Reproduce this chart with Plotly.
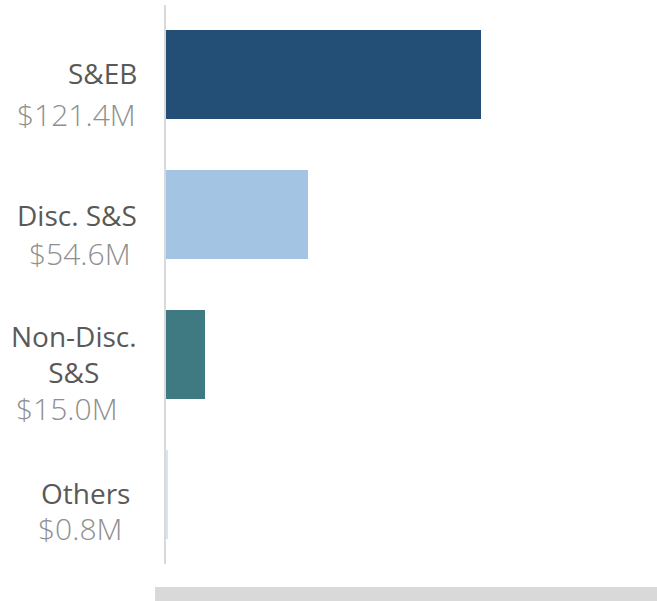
import plotly.graph_objects as go

# ---- data ----
categories = ["S&EB", "Disc. S&S", "Non-Disc. S&S", "Others"]
category_labels = ["S&EB", "Disc. S&S", "Non-Disc.<br>S&S", "Others"]
values = [121.4, 54.6, 15.0, 0.8]
bar_colors = ["#234f76", "#a3c4e2", "#3f7982", "#d6e4f3"]

# ---- layout styling ----
W, H = 657, 601
ML, MR, MT, MB = 166, 0, 5, 37
PW = W - ML - MR
PH = H - MT - MB
XMAX = 189.2

# per-category label placement (pixel centres / offsets)
name_cx = [102, 77, 74, 85]
name_dy = [1.5, 0, 0, 1]
value_cx = [76, 80, 67, 80]
value_dy = [-40, -38.5, -54.5, -34]

fig = go.Figure()
fig.add_trace(go.Bar(
    y=categories, x=values, orientation="h",
    marker=dict(color=bar_colors, line=dict(width=0)),
    width=0.636, hoverinfo="skip",
))

annotations = []
for i, cat in enumerate(categories):
    annotations.append(dict(
        x=(name_cx[i] - ML) / PW, xref="paper", y=cat, yref="y",
        text=category_labels[i], showarrow=False, xanchor="center", yanchor="middle",
        yshift=name_dy[i], align="center",
        font=dict(family="Open Sans", size=28, color="#595959"),
    ))
    annotations.append(dict(
        x=(value_cx[i] - ML) / PW, xref="paper", y=cat, yref="y",
        text=f"${values[i]:.1f}M", showarrow=False, xanchor="center", yanchor="middle",
        yshift=value_dy[i], align="center",
        font=dict(family="Open Sans", size=30, color="#8f8f8f", weight=300),
    ))

fig.update_layout(
    width=W, height=H,
    margin=dict(l=ML, r=MR, t=MT, b=MB, pad=0),
    paper_bgcolor="white", plot_bgcolor="white",
    showlegend=False,
    bargap=0,
    xaxis=dict(range=[0, XMAX], visible=False, fixedrange=True),
    yaxis=dict(
        categoryorder="array", categoryarray=categories, range=[3.5, -0.5],
        showticklabels=False, showgrid=False, zeroline=False, ticks="",
        showline=True, linecolor="#d9d9d9", linewidth=2, fixedrange=True,
    ),
    annotations=annotations,
    shapes=[dict(
        type="rect", xref="paper", yref="paper",
        x0=(155 - ML) / PW, x1=1.0,
        y0=-(587 - MT - PH) / PH, y1=-(601 - MT - PH) / PH,
        fillcolor="#d9d9d9", line=dict(width=0), layer="above",
    )],
)

fig.write_html(
    "out.html",
    config={"displayModeBar": False},
    post_script="document.body.style.margin='0';document.body.style.overflow='hidden';",
)
